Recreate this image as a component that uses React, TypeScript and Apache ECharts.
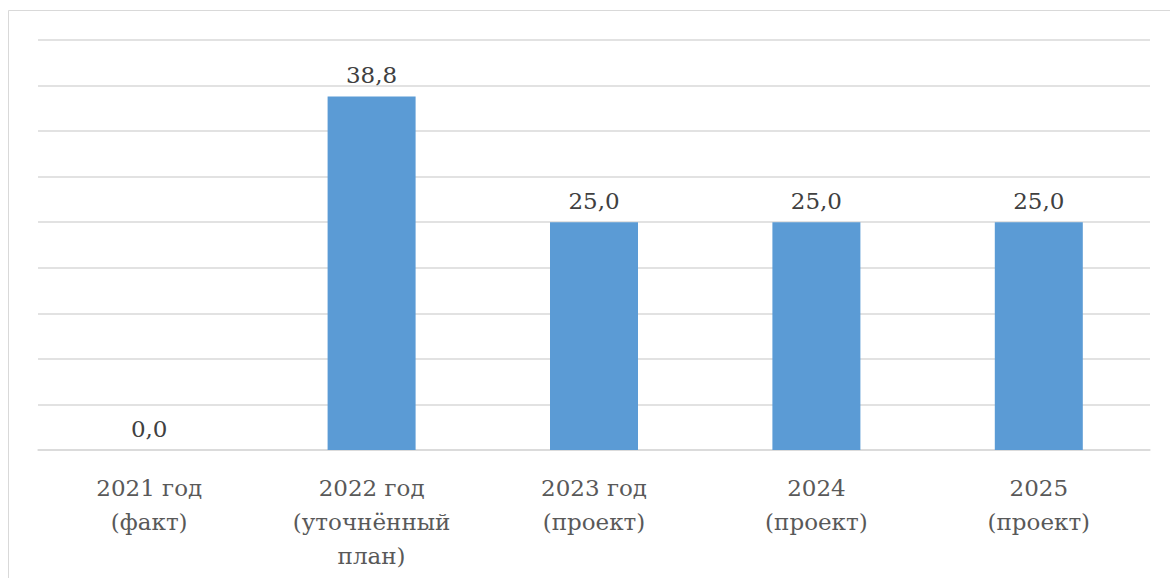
import React, { useEffect, useRef } from "react";
import * as echarts from "echarts";

const categories = [
  "2021 год\n(факт)",
  "2022 год\n(уточнённый\nплан)",
  "2023 год\n(проект)",
  "2024\n(проект)",
  "2025\n(проект)",
];
const values = [0, 38.8, 25.0, 25.0, 25.0];
const yMax = 45;
const yInterval = 5;

export default function App() {
  const ref = useRef<HTMLDivElement>(null);
  useEffect(() => {
    if (!ref.current) return;
    const chart = echarts.init(ref.current, undefined, { renderer: "svg" });
    const font = "'DejaVu Serif', 'Liberation Serif', serif";
    chart.setOption({
      animation: false,
      backgroundColor: "#ffffff",
      graphic: [
        {
          type: "rect",
          shape: { x: 8.5, y: 10.5, width: 1180, height: 600 },
          style: { fill: "none", stroke: "#d9d9d9", lineWidth: 1 },
          silent: true,
        },
      ],
      grid: { left: 38, right: 20, top: 40, bottom: 128, containLabel: false },
      xAxis: {
        type: "category",
        data: categories,
        axisLine: { lineStyle: { color: "#d9d9d9", width: 1.5 } },
        axisTick: { show: false },
        axisLabel: {
          color: "#595959",
          fontFamily: font,
          fontSize: 23,
          lineHeight: 34,
          margin: 21,
          interval: 0,
        },
      },
      yAxis: {
        type: "value",
        min: 0,
        max: yMax,
        interval: yInterval,
        axisLabel: { show: false },
        axisLine: { show: false },
        axisTick: { show: false },
        splitLine: { lineStyle: { color: "#d9d9d9", width: 1.5 } },
      },
      series: [
        {
          type: "bar",
          data: values,
          barWidth: 88,
          itemStyle: { color: "#5b9bd5" },
          label: {
            show: true,
            position: "top",
            distance: 10,
            color: "#404040",
            fontFamily: font,
            fontSize: 23,
            formatter: (p: any) => Number(p.value).toFixed(1).replace(".", ","),
          },
        },
      ],
    });
    return () => chart.dispose();
  }, []);
  return (
    <div
      ref={ref}
      style={{ position: "fixed", left: 0, top: 0, width: 1170, height: 578 }}
    />
  );
}
